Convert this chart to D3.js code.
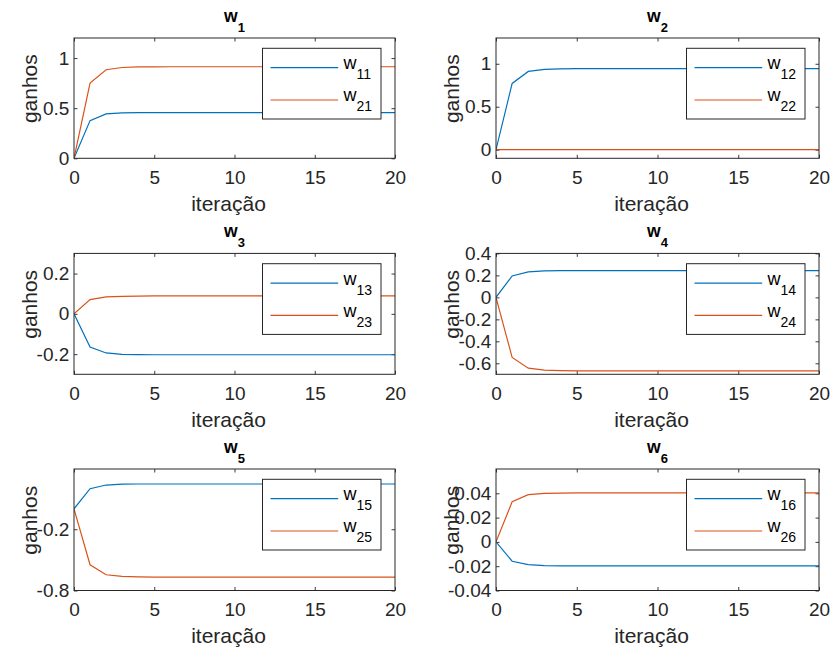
<!DOCTYPE html>
<html>
<head>
<meta charset="utf-8">
<script src="https://cdn.jsdelivr.net/npm/d3@7"></script>
<style>
  html, body { margin: 0; padding: 0; background: #ffffff; }
  svg { display: block; font-family: "Liberation Sans", Arial, Helvetica, sans-serif; }
</style>
</head>
<body>
<svg id="chart" width="832" height="653"></svg>
<script>
// ---------------- DATA ----------------
const iteracoes = [0,1,2,3,4,5,6,7,8,9,10,11,12,13,14,15,16,17,18,19,20];
const xTicks = [0, 5, 10, 15, 20];

const w11 = [0,0.376,0.443,0.453,0.455,0.456,0.456,0.456,0.456,0.456,0.456,0.456,0.456,0.456,0.456,0.456,0.456,0.456,0.456,0.456,0.456];
const w21 = [0,0.750,0.883,0.906,0.911,0.912,0.913,0.913,0.913,0.913,0.913,0.913,0.913,0.913,0.913,0.913,0.913,0.913,0.913,0.913,0.913];
const w12 = [0,0.771,0.911,0.935,0.941,0.943,0.943,0.943,0.943,0.943,0.943,0.943,0.943,0.943,0.943,0.943,0.943,0.943,0.943,0.943,0.943];
const w22 = [0,0,0,0,0,0,0,0,0,0,0,0,0,0,0,0,0,0,0,0,0];
const w13 = [0,-0.165,-0.194,-0.201,-0.202,-0.203,-0.203,-0.203,-0.203,-0.203,-0.203,-0.203,-0.203,-0.203,-0.203,-0.203,-0.203,-0.203,-0.203,-0.203,-0.203];
const w23 = [0,0.071,0.084,0.087,0.088,0.089,0.089,0.089,0.089,0.089,0.089,0.089,0.089,0.089,0.089,0.089,0.089,0.089,0.089,0.089,0.089];
const w14 = [0,0.195,0.232,0.241,0.243,0.244,0.244,0.244,0.244,0.244,0.244,0.244,0.244,0.244,0.244,0.244,0.244,0.244,0.244,0.244,0.244];
const w24 = [0,-0.547,-0.644,-0.662,-0.666,-0.668,-0.668,-0.668,-0.668,-0.668,-0.668,-0.668,-0.668,-0.668,-0.668,-0.668,-0.668,-0.668,-0.668,-0.668,-0.668];
const w15 = [0,0.197,0.233,0.241,0.243,0.243,0.243,0.243,0.243,0.243,0.243,0.243,0.243,0.243,0.243,0.243,0.243,0.243,0.243,0.243,0.243];
const w25 = [0,-0.548,-0.646,-0.662,-0.667,-0.669,-0.669,-0.669,-0.669,-0.669,-0.669,-0.669,-0.669,-0.669,-0.669,-0.669,-0.669,-0.669,-0.669,-0.669,-0.669];
const w16 = [0,-0.0159,-0.0187,-0.0195,-0.0197,-0.0198,-0.0198,-0.0198,-0.0198,-0.0198,-0.0198,-0.0198,-0.0198,-0.0198,-0.0198,-0.0198,-0.0198,-0.0198,-0.0198,-0.0198,-0.0198];
const w26 = [0,0.0330,0.0389,0.0400,0.0402,0.0403,0.0403,0.0403,0.0403,0.0403,0.0403,0.0403,0.0403,0.0403,0.0403,0.0403,0.0403,0.0403,0.0403,0.0403,0.0403];

const titles = ["1","2","3","4","5","6"];
const legendSubs = [["11","21"],["12","22"],["13","23"],["14","24"],["15","25"],["16","26"]];
const seriesData = [[w11,w21],[w12,w22],[w13,w23],[w14,w24],[w15,w25],[w16,w26]];
const yDomains = [[0,1.2],[-0.1,1.3],[-0.3,0.3],[-0.7,0.4],[-0.8,0.39],[-0.04,0.06]];
const yTicks = [
  [0,0.5,1],
  [0,0.5,1],
  [-0.2,0,0.2],
  [-0.6,-0.4,-0.2,0,0.2,0.4],
  [-0.8,-0.2],
  [-0.04,-0.02,0,0.02,0.04]
];
const xLabel = "iteração";
const yLabel = "ganhos";

// ---------------- LAYOUT ----------------
const colors = ["#0072BD", "#D95319"];
const axisColor = "#262626";
const colX = [[74, 395], [496, 819]];
const rowY = [[38, 158.3], [253.4, 374.3], [469, 590.5]];

const svg = d3.select("#chart");
const fmt = v => (+v.toFixed(4)).toString();

seriesData.forEach((series, i) => {
  const col = i % 2, row = Math.floor(i / 2);
  const [x0, x1] = colX[col];
  const [y0, y1] = rowY[row];
  const w = x1 - x0, h = y1 - y0;

  const x = d3.scaleLinear().domain([0, 20]).range([0, w]);
  const y = d3.scaleLinear().domain(yDomains[i]).range([h, 0]);

  const g = svg.append("g").attr("transform", `translate(${x0},${y0})`);

  const clipId = "clip" + i;
  g.append("clipPath").attr("id", clipId)
    .append("rect").attr("x", 0).attr("y", 0).attr("width", w).attr("height", h);

  const styleAxis = sel => {
    sel.select(".domain").remove();
    sel.selectAll(".tick line").attr("stroke", axisColor).attr("stroke-width", 0.9);
    sel.selectAll(".tick text").attr("fill", axisColor).attr("font-size", 19)
      .attr("font-family", "'Liberation Sans', Arial, sans-serif");
  };

  g.append("g").attr("transform", `translate(0,${h})`)
    .call(d3.axisBottom(x).tickValues(xTicks).tickFormat(fmt).tickSize(-3.5).tickSizeOuter(0).tickPadding(12.5))
    .call(styleAxis);
  g.append("g")
    .call(d3.axisTop(x).tickValues(xTicks).tickFormat("").tickSize(-3.5).tickSizeOuter(0))
    .call(styleAxis);
  g.append("g")
    .call(d3.axisLeft(y).tickValues(yTicks[i]).tickFormat(fmt).tickSize(-3.5).tickSizeOuter(0).tickPadding(4.7))
    .call(styleAxis);
  g.append("g").attr("transform", `translate(${w},0)`)
    .call(d3.axisRight(y).tickValues(yTicks[i]).tickFormat("").tickSize(-3.5).tickSizeOuter(0))
    .call(styleAxis);

  const line = d3.line().x((d, k) => x(iteracoes[k])).y(d => y(d));
  series.forEach((s, k) => {
    g.append("path").datum(s)
      .attr("clip-path", `url(#${clipId})`)
      .attr("fill", "none")
      .attr("stroke", colors[k])
      .attr("stroke-width", 1.2)
      .attr("d", line);
  });

  g.append("rect").attr("x", 0).attr("y", 0).attr("width", w).attr("height", h)
    .attr("fill", "none").attr("stroke", axisColor).attr("stroke-width", 1);

  // title
  const t = g.append("text").attr("x", w / 2).attr("y", -16.3)
    .attr("text-anchor", "middle").attr("fill", "#000").attr("font-weight", "bold");
  t.append("tspan").attr("font-size", 17.5).text("w");
  t.append("tspan").attr("font-size", 13).attr("dy", 10).text(titles[i]);

  // axis labels
  g.append("text").attr("x", w / 2 - 6).attr("y", h + 52.3)
    .attr("text-anchor", "middle").attr("font-size", 21).attr("fill", axisColor)
    .text(xLabel);
  g.append("text")
    .attr("transform", `translate(${-37},${h / 2 - 9.5}) rotate(-90)`)
    .attr("text-anchor", "middle").attr("font-size", 21).attr("fill", axisColor)
    .text(yLabel);

  // legend
  const lw = 118.5, lh = 70.7;
  const lg = g.append("g").attr("transform", `translate(${w - 14 - lw},${10.3})`);
  lg.append("rect").attr("width", lw).attr("height", lh)
    .attr("fill", "#fff").attr("stroke", axisColor).attr("stroke-width", 1);
  legendSubs[i].forEach((sub, k) => {
    const ly = 19.4 + k * 32.3;
    lg.append("line").attr("x1", 8).attr("x2", 75.7).attr("y1", ly).attr("y2", ly)
      .attr("stroke", colors[k]).attr("stroke-width", 1.2);
    const tt = lg.append("text").attr("x", 81).attr("y", ly + 1.5).attr("fill", "#000");
    tt.append("tspan").attr("font-size", 18).text("w");
    tt.append("tspan").attr("font-size", 14).attr("dy", 10).text(sub);
  });
});
</script>
</body>
</html>
